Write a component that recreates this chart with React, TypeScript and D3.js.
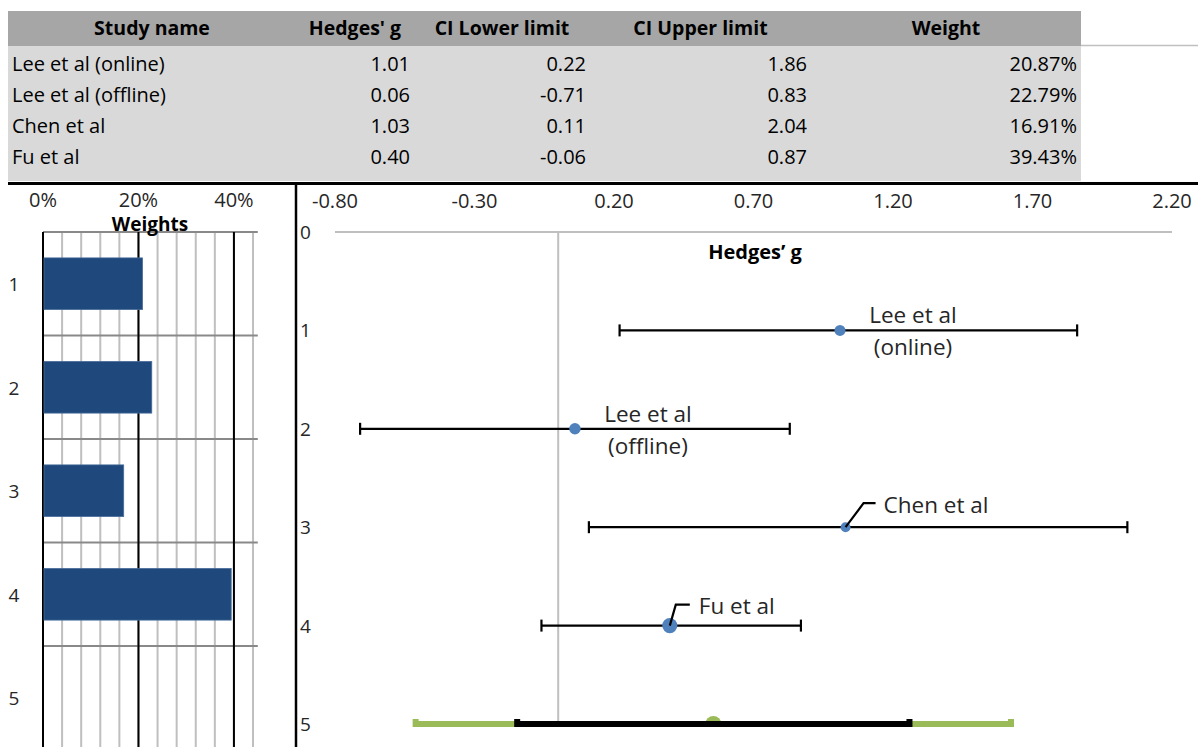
import React from "react";
import * as d3 from "d3";

// ---------- data ----------
const studies = ["Lee et al (online)", "Lee et al (offline)", "Chen et al", "Fu et al"];
const hedgesG = [1.01, 0.06, 1.03, 0.40];
const ciLower = [0.22, -0.71, 0.11, -0.06];
const ciUpper = [1.86, 0.83, 2.04, 0.87];
const weights = [20.87, 22.79, 16.91, 39.43];
const tableHeaders = ["Study name", "Hedges' g", "CI Lower limit", "CI Upper limit", "Weight"];
const labelLines = [["Lee et al", "(online)"], ["Lee et al", "(offline)"], ["Chen et al"], ["Fu et al"]];
const weightCats = ["1", "2", "3", "4", "5"];
const weightTicks = [0, 0.2, 0.4];
const forestTicks = [-0.8, -0.3, 0.2, 0.7, 1.2, 1.7, 2.2];
const forestYTicks = [0, 1, 2, 3, 4, 5];
const pooledG = 0.556;
const pooledLower = -0.147;
const pooledUpper = 1.259;
const predLower = -0.511;
const predUpper = 1.623;

const FONT = "'Open Sans', 'Noto Sans', sans-serif";
const fmt2 = (v: number) => v.toFixed(2);

export default function App() {
  const W = 1198, H = 747;
  // table geometry
  const colEdges = [8, 296, 414, 590, 811, 1081];
  const headTop = 11, headBottom = 46, rowH = 31, bodyBottom = 181;
  const rowBase = (i: number) => 71 + i * rowH;

  // weight chart scales
  const xW = d3.scaleLinear().domain([0, 0.45]).range([43, 257.8]);
  const yW = d3.scaleBand<string>().domain(weightCats).range([232, 749.5]);
  const bw = yW.bandwidth();
  const minorGrid = d3.range(0, 0.4401, 0.04);

  // forest scales
  const xF = d3.scaleLinear().domain([-0.8, 2.2]).range([335, 1172]);
  const yF = d3.scaleLinear().domain([0, 5]).range([232, 724]);
  const pct = d3.format(".0%");

  const textColor = "#262626";

  const labelEls = labelLines.map((lines, i) => {
    const cx = xF(hedgesG[i]);
    const cy = yF(i + 1);
    if (lines.length === 2) {
      return (
        <g key={i}>
          <text x={cx + 73} y={cy - 7} textAnchor="middle" fontSize={22.5} fill={textColor}>{lines[0]}</text>
          <text x={cx + 73} y={cy + 25} textAnchor="middle" fontSize={22.5} fill={textColor}>{lines[1]}</text>
        </g>
      );
    }
    const lead = i === 2 ? { dx: 18, dy: -24, ex: 30, tx: 38, ty: -14 } : { dx: 6, dy: -21, ex: 20, tx: 29, ty: -12 };
    const path = d3.line()([[cx, cy], [cx + lead.dx, cy + lead.dy], [cx + lead.ex, cy + lead.dy]]) || "";
    return (
      <g key={i}>
        <path d={path} fill="none" stroke="#000" strokeWidth={2.2} />
        <text x={cx + lead.tx} y={cy + lead.ty} fontSize={22.5} fill={textColor}>{lines[0]}</text>
      </g>
    );
  });

  return (
    <div style={{ position: "absolute", left: 0, top: 0 }}>
      <svg width={W} height={H} style={{ display: "block", fontFamily: FONT }}>
        <defs>
          <clipPath id="forestClip">
            <rect x={300} y={200} width={898} height={527} />
          </clipPath>
        </defs>
        <rect x={0} y={0} width={W} height={H} fill="#fff" />

        {/* ---------- table ---------- */}
        <rect x={colEdges[0]} y={headTop} width={colEdges[5] - colEdges[0]} height={headBottom - headTop} fill="#a6a6a6" />
        <rect x={colEdges[0]} y={headBottom} width={colEdges[5] - colEdges[0]} height={bodyBottom - headBottom} fill="#d9d9d9" />
        <line x1={colEdges[5]} x2={W} y1={45.5} y2={45.5} stroke="#c0c0c0" strokeWidth={1.5} />
        {tableHeaders.map((h, j) => (
          <text key={h} x={(colEdges[j] + colEdges[j + 1]) / 2} y={35} textAnchor="middle" fontWeight="bold" fontSize={19.5} fill="#000">{h}</text>
        ))}
        {studies.map((s, i) => (
          <g key={s} fontSize={20} fill="#000">
            <text x={12} y={rowBase(i)}>{s}</text>
            <text x={colEdges[2] - 4} y={rowBase(i)} textAnchor="end">{fmt2(hedgesG[i])}</text>
            <text x={colEdges[3] - 4} y={rowBase(i)} textAnchor="end">{fmt2(ciLower[i])}</text>
            <text x={colEdges[4] - 4} y={rowBase(i)} textAnchor="end">{fmt2(ciUpper[i])}</text>
            <text x={colEdges[5] - 4} y={rowBase(i)} textAnchor="end">{fmt2(weights[i]) + "%"}</text>
          </g>
        ))}
        <line x1={8} x2={W} y1={183.5} y2={183.5} stroke="#000" strokeWidth={3} />
        <line x1={296} x2={296} y1={183} y2={H} stroke="#000" strokeWidth={2.5} />

        {/* ---------- weights chart ---------- */}
        {minorGrid.map((v) => (
          <line key={v} x1={xW(v)} x2={xW(v)} y1={232} y2={H} stroke="#bfbfbf" strokeWidth={2} />
        ))}
        {weightCats.map((c) => (
          <line key={c} x1={xW(0)} x2={xW(0.45)} y1={yW(c)!} y2={yW(c)!} stroke="#898989" strokeWidth={2} />
        ))}
        {weightTicks.map((v) => (
          <line key={v} x1={xW(v)} x2={xW(v)} y1={232} y2={H} stroke="#000" strokeWidth={2} />
        ))}
        {weights.map((w, i) => (
          <rect key={i} x={xW(0) + 1} y={yW(weightCats[i])! + bw * 0.25} width={xW(w / 100) - xW(0) - 1} height={bw * 0.5} fill="#1f497d" stroke="#4a6e9c" strokeWidth={0.75} />
        ))}
        {weightTicks.map((v) => (
          <text key={v} x={xW(v)} y={207} textAnchor="middle" fontSize={20} fill={textColor}>{pct(v)}</text>
        ))}
        <text x={150} y={231} textAnchor="middle" fontWeight="bold" fontSize={19} fill="#000">Weights</text>
        {weightCats.map((c) => (
          <text key={c} x={14} y={yW(c)! + bw / 2 + 7.5} textAnchor="middle" fontSize={19} fill={textColor}>{c}</text>
        ))}

        {/* ---------- forest plot ---------- */}
        {forestTicks.map((v) => (
          <text key={v} x={xF(v)} y={207.5} textAnchor="middle" fontSize={20} fill={textColor}>{fmt2(v)}</text>
        ))}
        {forestYTicks.map((v) => (
          <text key={v} x={300} y={yF(v) + 7} fontSize={19} fill={textColor}>{v}</text>
        ))}
        <line x1={xF(-0.8)} x2={xF(2.2)} y1={yF(0)} y2={yF(0)} stroke="#bfbfbf" strokeWidth={2} />
        <line x1={xF(0)} x2={xF(0)} y1={yF(0)} y2={yF(5)} stroke="#bfbfbf" strokeWidth={2} />
        <text x={755} y={259} textAnchor="middle" fontWeight="bold" fontSize={20} fill="#000">Hedges’ g</text>

        {hedgesG.map((g, i) => {
          const y = yF(i + 1);
          return (
            <g key={i}>
              <line x1={xF(ciLower[i])} x2={xF(ciUpper[i])} y1={y} y2={y} stroke="#000" strokeWidth={2.2} />
              <line x1={xF(ciLower[i])} x2={xF(ciLower[i])} y1={y - 6} y2={y + 6} stroke="#000" strokeWidth={2.2} />
              <line x1={xF(ciUpper[i])} x2={xF(ciUpper[i])} y1={y - 6} y2={y + 6} stroke="#000" strokeWidth={2.2} />
              <circle cx={xF(g)} cy={y} r={1.2 * Math.sqrt(weights[i])} fill="#4f81bd" />
            </g>
          );
        })}
        {labelEls}

        <g clipPath="url(#forestClip)">
          <line x1={xF(predLower)} x2={xF(predUpper)} y1={yF(5)} y2={yF(5)} stroke="#9bbb59" strokeWidth={6} />
          <line x1={xF(predLower)} x2={xF(predLower)} y1={yF(5) - 5} y2={yF(5) + 5} stroke="#9bbb59" strokeWidth={6} />
          <line x1={xF(predUpper)} x2={xF(predUpper)} y1={yF(5) - 5} y2={yF(5) + 5} stroke="#9bbb59" strokeWidth={6} />
          <circle cx={xF(pooledG)} cy={yF(5)} r={8} fill="#9bbb59" />
          <line x1={xF(pooledLower)} x2={xF(pooledUpper)} y1={yF(5)} y2={yF(5)} stroke="#000" strokeWidth={6} />
          <line x1={xF(pooledLower)} x2={xF(pooledLower)} y1={yF(5) - 5} y2={yF(5) + 5} stroke="#000" strokeWidth={6} />
          <line x1={xF(pooledUpper)} x2={xF(pooledUpper)} y1={yF(5) - 5} y2={yF(5) + 5} stroke="#000" strokeWidth={6} />
        </g>
      </svg>
    </div>
  );
}
